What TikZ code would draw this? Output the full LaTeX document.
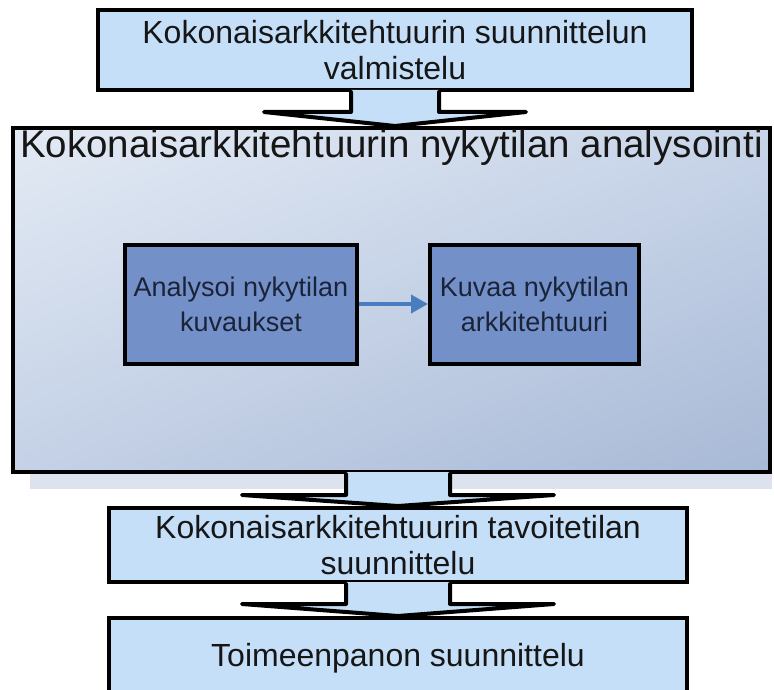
\documentclass[tikz,border=0pt]{standalone}
\usepackage{fontspec}
\setmainfont{Liberation Sans}
\usetikzlibrary{calc,arrows.meta,shadings}

\definecolor{paleblue}{HTML}{C6DFF8}
\definecolor{midblue}{HTML}{7391C8}
\definecolor{linkblue}{HTML}{4A7CC0}
\definecolor{inktext}{HTML}{161616}
\definecolor{navytext}{HTML}{1B2338}
\definecolor{shadowgrey}{HTML}{DDE3EE}
\definecolor{panelUL}{HTML}{E3EAF4}
\definecolor{panelUR}{HTML}{C8D5E9}
\definecolor{panelLL}{HTML}{C4D1E6}
\definecolor{panelLR}{HTML}{A8B9D6}

\tikzset{
  stagebox/.style={draw=black, line width=4pt, fill=paleblue, rectangle,
    inner sep=0pt, align=center, text=inktext,
    font=\fontsize{32}{36}\selectfont},
  innerbox/.style={draw=black, line width=4pt, fill=midblue, rectangle,
    inner sep=0pt, align=center, text=navytext,
    font=\fontsize{27}{35}\selectfont},
  titletext/.style={text=inktext, inner sep=0pt,
    font=\fontsize{38.5}{40}\selectfont},
  arrowfill/.style={fill=paleblue},
  arrowline/.style={draw=black, line width=4pt, line join=round, line cap=round},
  innerlink/.style={draw=linkblue, line width=4pt,
    -{Triangle[length=17pt,width=18pt]}}
}

% block arrow: #1 source, #2 target, #3 node giving the centre line,
% #4 half stem width, #5 half head width, #6 head start below source
\newcommand{\flowarrow}[6]{%
  \coordinate (fa-s) at (#3.center |- #1.south);
  \coordinate (fa-t) at (#3.center |- #2.north);
  \fill[arrowfill] ($(fa-s)+(-#4,-2)$) -- ($(fa-s)+(-#4,#6)$) -- ($(fa-s)+(-#5,#6)$)
    -- (fa-t) -- ($(fa-s)+(#5,#6)$) -- ($(fa-s)+(#4,#6)$) -- ($(fa-s)+(#4,-2)$) -- cycle;
  \draw[arrowline] ($(fa-s)+(-#4,0)$) -- ($(fa-s)+(-#4,#6)$) -- ($(fa-s)+(-#5,#6)$)
    -- (fa-t) -- ($(fa-s)+(#5,#6)$) -- ($(fa-s)+(#4,#6)$) -- ($(fa-s)+(#4,0)$);
}

\begin{document}
\begin{tikzpicture}[x=1pt, y=-1pt]
  \useasboundingbox[fill=white] (0,0) rectangle (774,690);

  % shadow under the analysis stage
  \fill[shadowgrey] (30,142) rectangle (772,489);

  % stages
  \node[stagebox, minimum width=594pt, minimum height=80pt] (prep) at (395,50)
    {Kokonaisarkkitehtuurin suunnittelun\\valmistelu};

  \node[draw=black, line width=4pt, rectangle, inner sep=0pt,
        minimum width=757pt, minimum height=344pt,
        upper left=panelUL, upper right=panelUR,
        lower left=panelLL, lower right=panelLR] (nyky) at (391.5,300) {};
  \node[titletext] (nykytitle) at (391.5,148)
    {Kokonaisarkkitehtuurin nykytilan analysointi};

  \node[innerbox, minimum width=232pt, minimum height=119pt] (analysoi) at (241,304)
    {Analysoi nykytilan\\kuvaukset};
  \node[innerbox, minimum width=209pt, minimum height=119pt] (kuvaa) at (534.5,304)
    {Kuvaa nykytilan\\arkkitehtuuri};
  \draw[innerlink] (analysoi.east) -- (kuvaa.west);

  \node[stagebox, minimum width=578pt, minimum height=74pt] (tavoite) at (398,545)
    {Kokonaisarkkitehtuurin tavoitetilan\\suunnittelu};
  \node[stagebox, minimum width=578pt, minimum height=80pt] (toimeen) at (398,658)
    {Toimeenpanon suunnittelu};

  % block arrows between the stages
  \flowarrow{prep}{nyky}{prep}{44}{131}{20}
  \flowarrow{nyky}{tavoite}{tavoite}{52}{156}{21}
  \flowarrow{tavoite}{toimeen}{tavoite}{52}{156}{20}
\end{tikzpicture}
\end{document}
